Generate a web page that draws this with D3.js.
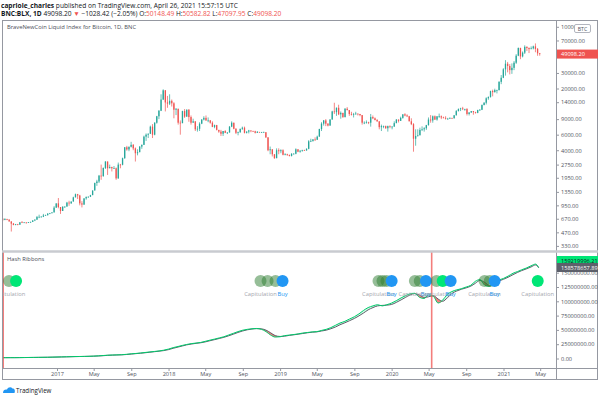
<!DOCTYPE html>
<html><head><meta charset="utf-8">
<script src="https://cdn.jsdelivr.net/npm/d3@7"></script>
<style>
html,body{margin:0;padding:0;background:#fff;}
svg{display:block;font-family:"Open Sans",sans-serif;}
</style></head><body>
<svg id="c" width="600" height="397"></svg>
<script>
// ---------- DATA ----------
// Weekly candles (weeks starting Monday 2016-07-04), BNC:BLX
const firstOpen = 670;
const closes = [
 // 2016
 650,665,655,625,590,570,580,575,610,608,609,600,612,617,640,655,700,705,705,730,735,765,775,790,895,1000,
 // 2017
 910,820,920,920,1020,1000,1050,1170,1270,1230,1000,970,1140,1180,1190,1240,1400,1700,1770,2060,2040,2520,2980,2500,2580,2500,2500,1920,2750,2740,3250,4320,4080,4380,4600,4200,3700,3800,4400,4600,5700,6000,6150,7400,6000,8200,9700,11200,15000,19100,13900,13500,
 // 2018
 14500,13600,11500,11800,8200,8100,11100,9600,11500,9500,8200,8500,6900,7000,8000,8900,9300,8700,8700,8200,7350,7700,6800,6500,6150,6600,6300,6350,7400,8200,7000,6300,6400,7000,7200,6300,6500,6700,6600,6550,6300,6450,6400,6400,6400,5600,4000,4100,3600,3250,4000,3900,4000,
 // 2019
 3550,3600,3550,3450,3650,3650,4100,3850,3950,4000,3980,4150,5050,5100,5300,5250,5700,6950,8000,8700,8000,7600,8900,11000,10800,12100,10200,10600,9500,11800,11400,10300,10100,10300,10400,10300,10000,8200,8200,8300,8200,9500,9200,8800,8500,7300,7500,7500,7100,7500,7400,7400,
 // 2020
 8100,8900,8600,9300,10200,9900,9700,8500,7900,5400,5800,5900,6800,6900,7100,7700,8900,8700,9700,8900,9700,9700,9400,9300,9100,9100,9300,9200,9950,11100,11700,11900,11700,11700,10300,10700,11100,10800,10600,11400,11500,13000,13800,15500,16000,18700,18200,19200,19200,23800,26500,33000,
 // 2021
 38200,36000,32300,34300,39200,47100,57500,46200,51000,59300,57500,55900,57000,60000,56200,50126.6,49098.2
];
const highs = [
 680,680,670,660,625,600,585,585,615,630,612,610,615,620,645,660,720,745,720,760,745,775,780,795,930,1000,
 1150,910,920,925,1040,1070,1050,1190,1290,1280,1250,1060,1140,1200,1200,1250,1400,1720,1850,2100,2750,2550,3000,2970,2750,2600,2650,2550,2900,2800,3300,4350,4480,4400,4980,4700,4300,4100,4450,4650,5850,6200,6200,7600,7900,8300,9800,11400,17200,19600,19200,16500,
 17200,15000,14000,12000,11700,8700,11200,11700,11600,11700,9900,9100,8500,7500,8300,9000,9700,9900,9400,8800,8500,7800,7750,6800,6800,6600,6750,6400,7500,8500,8200,7100,6500,7000,7400,7400,6550,6800,6700,6650,6650,6600,6450,6450,6500,6400,5600,4400,4100,3500,4200,4200,4100,
 4100,3700,3650,3550,3700,3700,4200,3950,4000,4050,4050,4200,5200,5400,5350,5600,5850,7000,8300,8800,9000,8100,9000,11200,13800,12200,13100,11000,10600,12000,12300,11400,10900,10600,10900,10400,10300,10000,8500,8700,8400,10300,9900,9400,9000,8500,7800,7600,7600,7600,7650,7500,
 8500,9000,8800,9600,10200,10500,10200,9800,9200,8100,6900,6900,7200,7450,7300,7750,9400,10000,9900,9900,9700,10400,9900,9600,9700,9300,9400,9300,10000,11400,11900,12100,12400,11800,12000,10800,11100,10900,10900,11500,11700,13200,14000,15900,16300,18900,19400,19900,19400,24200,28400,34000,
 41900,40000,37800,38500,40900,49000,58300,58000,52600,61700,60000,58400,60000,61200,64800,57500,50582.82
];
const lows = [
 630,645,645,620,480,565,565,565,570,600,600,590,600,605,615,630,650,680,700,700,725,730,755,770,790,890,
 880,760,820,890,920,940,990,1050,1180,1120,950,900,960,1100,1160,1180,1240,1400,1580,1700,1850,2000,2450,2100,2500,2300,2450,1850,1900,2500,2700,3200,3950,3900,4300,4000,2980,3500,3800,4150,4600,5100,5500,6100,5500,5900,8000,9000,11100,14800,11000,12100,
 13000,12500,9200,10000,7800,6000,8100,9300,9600,8400,7800,8200,6600,6500,6600,7900,8700,8600,8300,8000,7300,7100,6700,6300,5800,5800,6250,6100,6350,7300,6900,6100,5900,6300,6800,6200,6200,6200,6400,6500,6200,6400,6350,6300,6350,5500,3900,3600,3400,3200,3300,3600,3700,
 3500,3500,3450,3400,3400,3600,3600,3800,3750,3850,3950,3950,4100,4950,5000,5100,5300,5700,6600,7600,7500,7450,7600,8900,10300,9800,10000,9100,9300,9400,11300,9800,9900,9400,10100,9900,9700,7800,7900,8000,7900,7400,9000,8700,8400,6900,6600,7100,7000,6500,7100,6900,
 7400,8100,8250,8600,9100,9700,9500,8500,7700,3850,4500,5700,5900,6600,6500,6800,7600,8200,8200,8800,8650,9300,9000,9200,8900,8900,9100,9050,9150,9900,11000,11100,11400,11200,9900,9900,10600,10100,10400,10500,11200,11400,12900,13200,14900,15800,16300,18000,17600,19000,22400,26200,
 28000,30500,28900,29300,32300,38000,46500,43000,45000,49200,53300,50400,55600,55500,51500,47000,47097.95
];

// Hash Ribbons: 30d SMA (green) and 60d SMA (grey) of hash rate, millions TH/s,
// sampled on the 1st and 16th of each month from 2016-07 to 2021-04, plus 2021-04-26
const hash30 = [
 1.38,1.45,1.5,1.5,1.6,1.7,1.8,1.9,2.0,2.1,2.2,2.4,
 2.6,2.8,3.0,3.2,3.4,3.5,3.7,3.9,4.2,4.6,5.2,5.8,6.1,6.3,6.6,7.3,8.2,8.8,9.6,10.5,11.5,12.3,13.2,14.5,
 16.5,19,21,23,24.5,26,27,28,30,32,34,36,38,41,44,47,49.5,51,52,52.5,51,47,41,37.5,
 38,40,41,42,43,44.5,45.5,46.5,47,49,51,54,58,62,65,69,73,78,84,89,92,94,92,94,
 97,101,106,110,113,114,107,105,111,109,97,102,112,117,120,122,125,128,135,138,128,126,133,137,
 140,144,149,152,155,158,162,165,159.22
];
const hash60 = [
 1.42,1.45,1.5,1.5,1.55,1.65,1.75,1.85,1.95,2.05,2.15,2.3,
 2.5,2.7,2.9,3.1,3.3,3.45,3.6,3.8,4.05,4.4,4.9,5.5,5.9,6.2,6.45,6.95,7.75,8.5,9.2,10.0,11.0,11.9,12.8,13.8,
 15.5,17.8,20,22,23.8,25.2,26.5,27.5,29,31,33,35,37,39.5,42.5,45.5,48.2,50.2,51.5,52.2,51.8,49.5,45,40,
 38.5,39,40.5,41.5,42.5,43.7,45,46,46.5,48,49.5,52,55,59,62.5,66,70,74.5,79.5,85,89,92,92.8,93.3,
 94.5,98,102.5,107,111,113.5,111,107,108,110,104,100,106,113.5,118,121,123.5,126.5,131.5,136.5,133,127.5,129.5,135,
 138.5,142,146.5,150.5,153.5,156.5,160,163.5,158.58
];

// Hash Ribbons signals
const signalDates = ['2016-07-28','2016-08-20',
 '2018-10-29','2018-11-21','2018-12-17','2019-01-09',
 '2019-11-19','2019-12-02','2019-12-15','2020-01-01',
 '2020-03-17','2020-04-02','2020-04-22',
 '2020-05-27','2020-06-16','2020-07-12',
 '2020-10-31','2020-11-17','2020-12-03',
 '2021-04-23'];
const signalKinds = ['old','new',
 'old','old','old','buy',
 'old','old','old','buy',
 'old','old','buy',
 'old','new','buy',
 'old','old','buy',
 'new'];
const signalLabels = ['Capitulation','',
 'Capitulation','','','Buy',
 'Capitulation','','','Buy',
 'Capitulation','','Buy',
 'Capitulation','','Buy',
 'Capitulation','','Buy',
 'Capitulation'];

const halvings = ['2016-07-09','2020-05-11'];
const priceTicks = [330,470,670,950,1350,1950,2750,4000,6000,9000,14000,20000,30000,70000,100000];
const hashTicks = [0,25,50,75,100,125,150];
const timeTicks = ['2017-01-01','2017-05-01','2017-09-01','2018-01-01','2018-05-01','2018-09-01','2019-01-01','2019-05-01','2019-09-01','2020-01-01','2020-05-01','2020-09-01','2021-01-01','2021-05-01'];
const lastPrice = 49098.20;
const last30 = 159219996.21, last60 = 158578657.89;

// ---------- LAYOUT ----------
const W=600,H=397;
const L=2, R=556, RE=598, T=20, SEP=251, BOT=368, AXB=380;
const FONT='"Open Sans",sans-serif';
const AXF=5.6;
const svg=d3.select('#c');
svg.append('rect').attr('width',W).attr('height',H).attr('fill','#fff');

const pd = s => new Date(s+'T00:00:00Z');
const x=d3.scaleUtc().domain([pd('2017-01-01'),pd('2021-01-01')]).range([57,503.5]);
const yP=d3.scaleLog().domain([330,100000]).range([245.9,26.8]);
const yH=d3.scaleLinear().domain([0,150]).range([358.5,272.7]);

const defs=svg.append('defs');
defs.append('clipPath').attr('id','cpU').append('rect').attr('x',L).attr('y',T).attr('width',R-L).attr('height',SEP-T);
defs.append('clipPath').attr('id','cpL').append('rect').attr('x',L).attr('y',SEP+1).attr('width',R-L).attr('height',BOT-SEP-1);
defs.append('clipPath').attr('id','cpAx').append('rect').attr('x',R).attr('y',T).attr('width',RE-R).attr('height',BOT-T);

// ---------- HEADER ----------
const h1=svg.append('text').attr('x',1).attr('y',7.5).attr('font-size',6.6).attr('fill','#131722');
h1.append('tspan').attr('font-weight','bold').text('capriole_charles');
h1.append('tspan').text(' published on TradingView.com, April 26, 2021 15:57:15 UTC');
const h2=svg.append('text').attr('x',1).attr('y',16).attr('font-size',6.6).attr('fill','#131722');
h2.append('tspan').attr('font-weight','bold').text('BNC:BLX, 1D');
h2.append('tspan').text(' 49098.20 ');
h2.append('tspan').attr('fill','#ef5350').text('▼');
h2.append('tspan').text(' −1028.42 (−2.05%) O:');
h2.append('tspan').attr('fill','#ef5350').text('50148.49');
h2.append('tspan').text(' H:');
h2.append('tspan').attr('fill','#ef5350').text('50582.82');
h2.append('tspan').text(' L:');
h2.append('tspan').attr('fill','#ef5350').text('47097.95');
h2.append('tspan').text(' C:');
h2.append('tspan').attr('fill','#ef5350').text('49098.20');

// ---------- CANDLES ----------
const DAY=864e5, start=Date.UTC(2016,6,4);
const candles=closes.map((c,i)=>{
  const o=i?closes[i-1]:firstOpen;
  return {d:new Date(start+i*7*DAY+3.5*DAY),o,c,h:Math.max(highs[i],o,c),l:Math.min(lows[i],o,c)};
});
const gU=svg.append('g').attr('clip-path','url(#cpU)');
const UP='#26a69a', DN='#ef5350';
gU.selectAll('line.w').data(candles).join('line')
  .attr('x1',d=>x(d.d)).attr('x2',d=>x(d.d)).attr('y1',d=>yP(d.h)).attr('y2',d=>yP(d.l))
  .attr('stroke',d=>d.c>=d.o?UP:DN).attr('stroke-width',0.7);
gU.selectAll('rect.b').data(candles).join('rect')
  .attr('x',d=>x(d.d)-0.65).attr('width',1.3)
  .attr('y',d=>yP(Math.max(d.o,d.c)))
  .attr('height',d=>Math.max(0.7,Math.abs(yP(d.o)-yP(d.c))))
  .attr('fill',d=>d.c>=d.o?UP:DN);

gU.append('text').attr('x',7).attr('y',29).attr('font-size',5.8).attr('fill','#4a4d57')
  .text('BraveNewCoin Liquid Index for Bitcoin, 1D, BNC');

// ---------- HASH RIBBONS ----------
const hashDates=[];
for(let y=2016;y<=2021;y++){for(let m=0;m<12;m++){
  if(y===2016&&m<6) continue; if(y===2021&&m>3) continue;
  hashDates.push(new Date(Date.UTC(y,m,1)),new Date(Date.UTC(y,m,16)));
}}
hashDates.push(pd('2021-04-26'));
const hrows=hashDates.map((d,i)=>({d,a:hash30[i],b:hash60[i]}));
const gL=svg.append('g').attr('clip-path','url(#cpL)');
gL.append('text').attr('x',7).attr('y',261).attr('font-size',5.8).attr('fill','#4a4d57').text('Hash Ribbons');

const cur=d3.curveMonotoneX;
gL.append('path').datum(hrows).attr('fill','rgba(0,230,118,0.18)')
  .attr('d',d3.area().curve(cur).x(d=>x(d.d)).y0(d=>yH(d.b)).y1(d=>yH(Math.max(d.a,d.b))));
gL.append('path').datum(hrows).attr('fill','rgba(239,83,80,0.75)')
  .attr('d',d3.area().curve(cur).x(d=>x(d.d)).y0(d=>yH(d.b)).y1(d=>yH(Math.min(d.a,d.b))));
gL.append('path').datum(hrows).attr('fill','none').attr('stroke','#5d606b').attr('stroke-width',1)
  .attr('d',d3.line().curve(cur).x(d=>x(d.d)).y(d=>yH(d.b)));
gL.append('path').datum(hrows).attr('fill','none').attr('stroke','#00c96b').attr('stroke-width',1)
  .attr('d',d3.line().curve(cur).x(d=>x(d.d)).y(d=>yH(d.a)));

// halving lines
gL.selectAll('line.hv').data(halvings).join('line')
  .attr('x1',d=>x(pd(d))).attr('x2',d=>x(pd(d))).attr('y1',SEP).attr('y2',BOT)
  .attr('stroke','#ef5350').attr('stroke-opacity',0.75).attr('stroke-width',1.6);

// signals
const sig=signalDates.map((d,i)=>({d:pd(d),k:signalKinds[i],t:signalLabels[i]}));
const sigFill={old:'rgba(46,125,50,0.5)',new:'#00e676',buy:'#2196f3'};
const SY=281;
gL.selectAll('circle.s').data(sig).join('circle')
  .attr('cx',d=>x(d.d)).attr('cy',SY).attr('r',6).attr('fill',d=>sigFill[d.k]);
gL.selectAll('text.s').data(sig.filter(d=>d.t)).join('text')
  .attr('x',d=>x(d.d)).attr('y',296).attr('text-anchor','middle').attr('font-size',5.8)
  .attr('fill',d=>d.k==='buy'?'#2196f3':'#a3a6ad').text(d=>d.t);

// ---------- FRAME ----------
const fr=svg.append('g').attr('stroke','#9598a1').attr('stroke-width',1).attr('fill','none').attr('shape-rendering','crispEdges');
fr.append('rect').attr('x',L+0.5).attr('y',T+0.5).attr('width',RE-L-1).attr('height',AXB-T-1);
fr.append('line').attr('x1',R+0.5).attr('x2',R+0.5).attr('y1',T).attr('y2',AXB);
fr.append('line').attr('x1',L).attr('x2',RE).attr('y1',BOT+0.5).attr('y2',BOT+0.5);
svg.append('line').attr('x1',L).attr('x2',RE).attr('y1',SEP+0.5).attr('y2',SEP+0.5)
  .attr('stroke','#c9cbd0').attr('stroke-width',2.5);

// ---------- AXES ----------
const axStyle=g=>{g.select('.domain').remove();
  g.selectAll('text').attr('font-family',FONT).attr('font-size',AXF).attr('fill','#50535e');
  g.selectAll('line').attr('stroke','#9598a1');};
const gPA=svg.append('g').attr('clip-path','url(#cpAx)').append('g').attr('transform',`translate(${R},0)`)
  .call(d3.axisRight(yP).tickValues(priceTicks).tickSize(3).tickPadding(2).tickFormat(d=>d.toFixed(2)));
axStyle(gPA);
const gHA=svg.append('g').attr('clip-path','url(#cpAx)').append('g').attr('transform',`translate(${R},0)`)
  .call(d3.axisRight(yH).tickValues(hashTicks).tickSize(3).tickPadding(2).tickFormat(d=>(d*1e6).toFixed(2)));
axStyle(gHA);
const gTA=svg.append('g').attr('transform',`translate(0,${BOT})`)
  .call(d3.axisBottom(x).tickValues(timeTicks.map(pd)).tickSize(3).tickPadding(1.5)
  .tickFormat(d=>d.getUTCMonth()===0?d3.utcFormat('%Y')(d):d3.utcFormat('%b')(d)));
axStyle(gTA);

// axis labels (last values)
const btc=svg.append('g');
btc.append('rect').attr('x',574.5).attr('y',24.5).attr('width',16).attr('height',8).attr('rx',1.5)
  .attr('fill','#fff').attr('stroke','#b2b5be');
btc.append('text').attr('x',582.5).attr('y',30.6).attr('text-anchor','middle').attr('font-size',5.2).attr('fill','#50535e').text('BTC');

function tag(yc,fill,tc,txt){
  svg.append('rect').attr('x',R+1).attr('y',yc-4.5).attr('width',RE-R-1).attr('height',9).attr('fill',fill);
  svg.append('text').attr('x',R+5).attr('y',yc+2).attr('font-size',AXF).attr('fill',tc).text(txt);
}
tag(yP(lastPrice),'#ef5350','#fff',lastPrice.toFixed(2));
tag(260.5,'#00e676','#131722',last30.toFixed(2));
tag(267.5,'#5d606b','#fff',last60.toFixed(2));

// ---------- LOGO ----------
const logo=svg.append('g');
logo.append('path').attr('fill','#2196f3')
  .attr('d','M3,393 C3,390 5,389 7,389.5 C8,387 11,386.5 12.5,388.5 C14.5,388.5 15.5,390.5 14.5,393 Z');
logo.append('text').attr('x',16).attr('y',393).attr('font-size',6.2).attr('fill','#131722').text('TradingView');
</script>
</body></html>
